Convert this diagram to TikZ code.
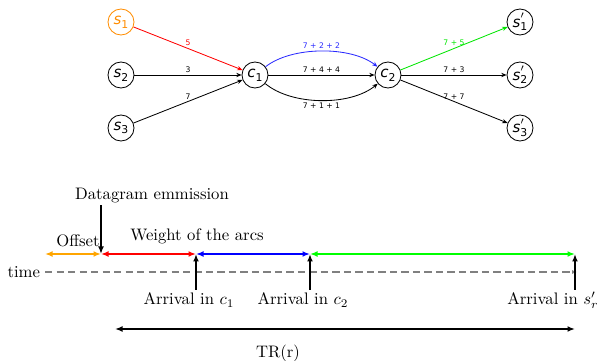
\documentclass[tikz,border=0pt]{standalone}
\usepackage{fontspec}
\newfontfamily\gfont{DejaVu Sans}
\usetikzlibrary{arrows.meta}
% vertex label: italic letter with subscript (optional prime)
\newcommand{\vlab}[2]{{\itshape #1}\raisebox{-0.45ex}{\fontsize{6.5}{7}\selectfont #2}}
\newcommand{\vlabp}[2]{{\itshape #1}\rlap{\raisebox{1.0ex}{\fontsize{6.5}{7}\selectfont\itshape $\prime$}}\raisebox{-0.45ex}{\fontsize{6.5}{7}\selectfont #2}}
\definecolor{korange}{RGB}{255,140,0}
\definecolor{gblue}{RGB}{40,40,255}
\definecolor{ggreen}{RGB}{0,230,0}
\definecolor{torange}{RGB}{255,165,0}
\definecolor{tgreen}{RGB}{0,255,0}
\begin{document}
\begin{tikzpicture}[x=0.6pt,y=-0.6pt,
  vertex/.style={circle,draw,line width=0.5pt,minimum size=15.6pt,inner sep=0pt,font=\gfont\fontsize{9}{10}\selectfont},
  edge/.style={line width=0.5pt,-{Stealth[length=3.2pt,width=2.6pt]}},
  wlab/.style={font=\gfont\fontsize{4.6}{5}\selectfont,inner sep=1.2pt},
  span/.style={line width=1pt,{Latex[length=4.5pt,width=3.5pt]}-{Latex[length=4.5pt,width=3.5pt]}},
  pointer/.style={line width=1pt,-{Latex[length=4.5pt,width=3.5pt]}},
  txt/.style={font=\fontsize{10}{12}\selectfont,inner sep=1pt}]
\useasboundingbox (0,0) rectangle (600,361);

% ---- routing graph ----
\node[vertex,draw=korange,text=korange] (s1) at (121,22) {\vlab{s}{1}};
\node[vertex] (s2) at (121,75) {\vlab{s}{2}};
\node[vertex] (s3) at (121,128) {\vlab{s}{3}};
\node[vertex] (c1) at (255,75) {\vlab{c}{1}};
\node[vertex] (c2) at (388,75) {\vlab{c}{2}};
\node[vertex] (t1) at (520,22) {\vlabp{s}{1}};
\node[vertex] (t2) at (520,75) {\vlabp{s}{2}};
\node[vertex] (t3) at (520,128) {\vlabp{s}{3}};

\draw[edge,red] (s1) -- node[wlab,above] {5} (c1);
\draw[edge] (s2) -- node[wlab,above] {3} (c1);
\draw[edge] (s3) -- node[wlab,above] {7} (c1);

\draw[edge,gblue] (c1) .. controls (292,46) and (351,46) .. node[wlab,above,pos=0.5] {7 + 2 + 2} (c2);
\draw[edge] (c1) -- node[wlab,above] {7 + 4 + 4} (c2);
\draw[edge] (c1) .. controls (292,106) and (351,106) .. node[wlab,below,pos=0.5] {7 + 1 + 1} (c2);

\draw[edge,ggreen] (c2) -- node[wlab,above] {7 + 5} (t1);
\draw[edge] (c2) -- node[wlab,above] {7 + 3} (t2);
\draw[edge] (c2) -- node[wlab,above] {7 + 7} (t3);

% ---- time line ----
\node[txt,anchor=east] (time) at (42,272) {time};
\coordinate (tend) at (577,272);
\draw[gray,line width=1pt,dash pattern=on 4.3pt off 2.6pt,-{Latex[length=3pt,width=2.5pt]}] (45,272) -- (tend);

\coordinate (o0) at (45,254);
\coordinate (o1) at (101,254);
\coordinate (o2) at (196,254);
\coordinate (o3) at (310,254);
\coordinate (o4) at (575,254);
\draw[span,torange] (o0) -- (o1);
\draw[span,red] (o1) -- (o2);
\draw[span,blue] (o2) -- (o3);
\draw[span,tgreen] (o3) -- (o4);

\node[txt] (offset) at (78,241) {Offset};
\node[txt] (weight) at (197,236) {Weight of the arcs};
\node[txt] (emit) at (152,196) {Datagram emmission};
\draw[pointer] (emit.south -| o1) -- (o1);

\node[txt] (a1) at (189,300) {Arrival in $c_1$};
\node[txt] (a2) at (303,300) {Arrival in $c_2$};
\node[txt] (a3) at (553,300) {Arrival in $s'_r$};
\draw[pointer] (196,290) -- (o2);
\draw[pointer] (310,290) -- (o3);
\draw[pointer] (575,290) -- (o4);

\coordinate (r0) at (115,329);
\coordinate (r1) at (575,329);
\draw[span] (r0) -- (r1);
\node[txt] (tr) at (278,353) {TR(r)};
\end{tikzpicture}
\end{document}
